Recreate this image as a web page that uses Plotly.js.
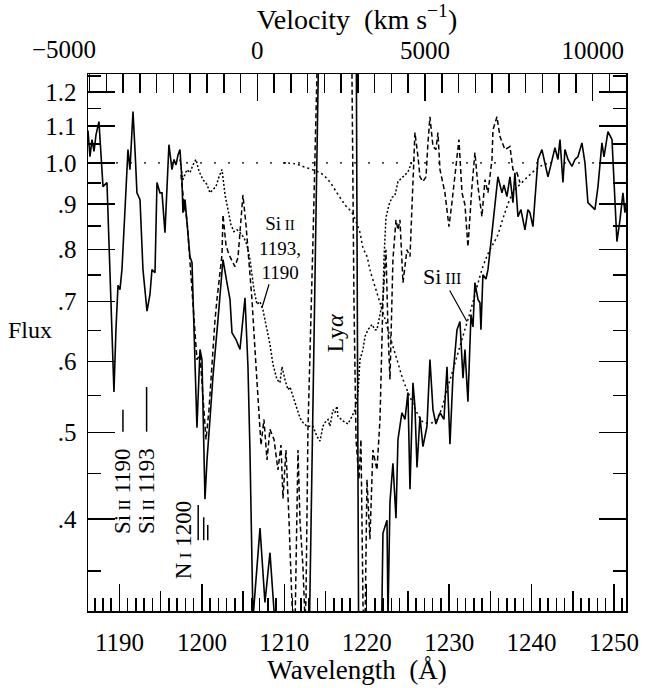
<!DOCTYPE html>
<html>
<head>
<meta charset="utf-8">
<script src="https://cdn.plot.ly/plotly-3.0.1.min.js"></script>
<style>html,body{margin:0;padding:0;background:#fff;}</style>
</head>
<body>
<div id="chart" style="width:660px;height:688px;"></div>
<script>
// ---- observed spectrum (solid) ----
var solidLam = [1186.18,1186.42,1186.66,1186.91,1187.15,1187.51,1187.76,1188.00,1188.48,1188.73,1189.09,1189.33,1189.57,1189.82,1190.06,1190.30,1190.67,1191.03,1191.27,1191.64,1191.88,1192.12,1192.49,1192.85,1193.34,1193.70,1193.94,1194.31,1194.55,1194.91,1195.16,1195.52,1196.00,1196.37,1196.61,1196.86,1197.10,1197.34,1197.58,1197.70,1197.95,1198.19,1198.55,1198.80,1199.04,1199.40,1199.77,1200.01,1200.37,1200.62,1200.98,1201.34,1201.95,1202.56,1203.04,1203.41,1203.65,1204.14,1204.62,1205.23,1205.59,1205.83,1206.20,1207.05,1207.65,1208.26,1208.87,1210.00,1212.90,1214.30,1216.50,1218.70,1219.05,1220.50,1221.80,1221.97,1222.46,1222.58,1222.82,1223.18,1223.55,1223.79,1224.27,1224.64,1225.00,1225.25,1225.61,1225.85,1226.10,1226.46,1226.82,1227.31,1227.67,1228.04,1228.40,1228.89,1229.37,1229.74,1230.10,1230.46,1230.95,1231.31,1231.68,1231.92,1232.28,1232.65,1232.89,1233.13,1233.50,1233.74,1233.86,1234.10,1234.47,1234.71,1235.20,1235.56,1235.92,1236.41,1236.65,1237.01,1237.38,1237.74,1237.98,1238.35,1238.71,1239.20,1239.56,1239.80,1240.17,1240.41,1240.78,1241.26,1241.63,1241.99,1242.35,1242.84,1243.20,1243.45,1243.81,1244.05,1244.42,1244.90,1245.27,1245.63,1246.11,1246.48,1246.84,1247.33,1247.69,1248.06,1248.54,1248.79,1249.27,1249.76,1250.12,1250.36,1250.73,1251.09,1251.33,1251.46];
var solidFlux = [1.087,1.016,1.062,1.030,1.075,1.112,1.021,0.941,0.951,0.800,0.651,0.555,0.651,0.730,0.722,0.760,0.887,1.035,0.983,1.141,1.035,0.926,0.910,0.760,0.683,0.713,0.760,0.754,0.951,0.926,0.926,0.836,1.048,0.983,1.009,0.995,1.021,1.035,0.958,0.880,0.910,0.864,0.786,0.774,0.651,0.506,0.619,0.603,0.421,0.466,0.517,0.577,0.668,0.780,0.735,0.704,0.646,0.635,0.619,0.707,0.592,0.478,0.310,0.391,0.323,0.367,0.305,0.280,0.250,1.600,2.000,1.600,0.250,0.280,0.300,0.386,0.399,0.310,0.418,0.462,0.401,0.491,0.526,0.517,0.554,0.432,0.568,0.534,0.457,0.521,0.482,0.508,0.603,0.530,0.511,0.526,0.517,0.592,0.485,0.577,0.651,0.665,0.575,0.619,0.541,0.677,0.656,0.735,0.704,0.698,0.651,0.750,0.742,0.760,0.836,0.903,0.965,0.926,0.945,0.917,0.965,0.903,0.975,0.871,0.887,0.842,0.887,0.880,0.849,0.910,1.009,1.035,1.000,0.965,0.995,1.040,1.009,1.062,0.951,1.035,1.009,0.991,1.009,1.016,1.053,1.000,0.903,0.894,0.887,0.941,1.053,1.016,1.084,1.062,0.887,0.817,0.864,0.926,0.880,0.898];

// ---- dashed spectrum ----
var dashLam = [1197.46,1197.83,1198.19,1198.55,1198.92,1199.40,1199.77,1200.13,1200.50,1200.86,1201.22,1201.59,1201.83,1202.20,1202.44,1202.56,1202.92,1203.28,1203.65,1204.01,1204.38,1204.74,1204.98,1205.35,1205.71,1206.08,1206.44,1206.80,1207.17,1207.53,1207.90,1208.26,1208.75,1209.23,1209.60,1209.84,1210.20,1210.57,1210.93,1211.29,1211.66,1211.90,1212.26,1212.50,1212.63,1212.87,1213.23,1213.48,1213.96,1214.20,1216.00,1218.00,1218.21,1218.45,1218.70,1219.06,1219.30,1219.55,1219.79,1220.03,1220.39,1220.75,1221.24,1221.61,1221.97,1222.33,1222.58,1222.82,1223.18,1223.55,1223.79,1224.03,1224.40,1224.88,1225.25,1225.49,1225.85,1226.22,1226.46,1226.82,1227.19,1227.43,1227.67,1228.04,1228.40,1228.64,1228.89,1229.49,1229.98,1230.34,1230.71,1230.95,1231.19,1231.56,1231.92,1232.28,1232.53,1232.77,1233.13,1233.50,1233.98,1234.35,1234.71,1235.20,1235.32,1235.80,1236.17,1236.77,1237.38,1237.74,1238.23,1238.59];
var dashFlux = [0.970,0.898,0.864,0.776,0.704,0.603,0.611,0.544,0.491,0.530,0.603,0.668,0.704,0.760,0.790,0.875,0.810,0.790,0.776,0.766,0.784,0.853,0.921,0.853,0.776,0.703,0.619,0.544,0.484,0.517,0.466,0.504,0.491,0.454,0.484,0.422,0.478,0.399,0.322,0.300,0.478,0.399,0.354,0.310,0.325,0.504,0.703,0.821,1.258,1.600,2.000,1.600,1.258,0.704,0.491,0.443,0.491,0.320,0.300,0.443,0.380,0.478,0.454,0.517,0.704,0.800,0.651,0.573,0.780,0.864,0.842,0.864,0.735,0.800,0.786,0.910,1.081,1.016,0.965,0.953,0.965,1.053,1.126,1.043,1.035,1.081,0.983,0.926,0.849,0.903,0.975,1.027,1.062,0.926,0.898,0.806,0.880,0.941,1.027,0.941,0.871,0.958,0.926,1.009,1.089,1.126,1.070,1.035,1.043,0.983,0.975,0.951];

// ---- dotted spectrum ----
var dotLam = [1197.34,1197.70,1198.19,1198.55,1198.92,1199.28,1199.65,1200.13,1200.62,1200.98,1201.34,1201.71,1202.07,1202.44,1202.81,1203.16,1203.53,1203.89,1204.26,1204.62,1205.10,1205.47,1205.83,1206.32,1206.68,1207.05,1207.41,1207.90,1208.26,1208.62,1209.11,1209.47,1209.72,1210.08,1210.44,1210.69,1211.05,1211.54,1211.90,1212.26,1212.75,1213.11,1213.48,1213.96,1214.33,1214.69,1214.93,1215.30,1215.54,1215.90,1216.15,1216.39,1216.51,1217.12,1217.72,1218.21,1218.58,1218.94,1219.18,1219.55,1219.79,1220.15,1220.64,1221.00,1221.24,1221.61,1221.97,1222.09,1222.33,1222.70,1223.06,1223.43,1223.79,1224.40,1225.00,1225.49,1225.97];
var dotFlux = [1.009,0.958,0.983,0.975,0.995,1.009,0.979,0.958,0.946,0.926,0.934,0.941,0.965,0.983,0.921,0.887,0.853,0.838,0.842,0.836,0.825,0.810,0.780,0.722,0.695,0.700,0.685,0.651,0.627,0.596,0.573,0.568,0.592,0.573,0.558,0.562,0.548,0.530,0.519,0.513,0.508,0.508,0.508,0.495,0.489,0.508,0.513,0.517,0.508,0.530,0.526,0.535,0.521,0.515,0.511,0.521,0.530,0.554,0.603,0.619,0.640,0.651,0.660,0.651,0.651,0.677,0.704,0.780,0.868,0.898,0.915,0.920,0.953,0.965,0.977,1.003,1.009];

// ---- smooth Si III profile (dotted) ----
var modelLam = [1209.84,1211.29,1212.26,1213.36,1214.33,1215.30,1216.39,1217.36,1218.21,1218.70,1219.18,1219.55,1220.03,1220.39,1221.24,1221.97,1222.82,1223.67,1224.40,1225.25,1226.10,1226.82,1228.04,1228.89,1229.74,1230.46,1231.31,1232.16,1232.53,1234.10,1234.95,1235.80,1236.77,1237.74,1238.83,1239.80,1241.02,1242.23];
var modelFlux = [1.000,0.998,0.991,0.983,0.975,0.958,0.926,0.898,0.880,0.860,0.836,0.804,0.786,0.760,0.716,0.681,0.640,0.603,0.573,0.548,0.526,0.514,0.513,0.526,0.558,0.587,0.624,0.663,0.680,0.766,0.800,0.827,0.880,0.926,0.951,0.970,0.991,1.000];

// ---- continuum ----
var contLam = [1186.18, 1251.46];
var contFlux = [1.0, 1.0];

// ---- line markers ----
var markLam  = [1190.42, 1193.29, 1199.55, 1200.22, 1200.71];
var markTop  = [0.530, 0.562, 0.415, 0.402, 0.394];
var markBot  = [0.501, 0.501, 0.379, 0.379, 0.379];

// ---- axes ticks ----
var yTickVals = [0.4,0.5,0.6,0.7,0.8,0.9,1.0,1.1,1.2];
var yTickText = ['.4','.5','.6','.7','.8','.9','1.0','1.1','1.2'];
var yMinorVals = [0.35,0.45,0.55,0.65,0.75,0.85,0.95,1.05,1.15,1.25];
var xTickVals = [1190,1200,1210,1220,1230,1240,1250];
var xMidVals = [1195,1205,1215,1225,1235,1245];
var vTickVals = [0,5000,10000];
var vTickText = ['0','5000','10000'];
var vFirst = -5000;
var vFirstLabel = '\u22125000';   // sits at the frame corner, drawn slightly left as in the original

var FONT = "'Liberation Serif', 'Times New Roman', 'DejaVu Serif', serif";
var xRange = [1186.18, 1251.46];
var vRange = [-5048, 10993];

var mx = [], my = [];
for (var i = 0; i < markLam.length; i++) {
  mx.push(markLam[i], markLam[i], null);
  my.push(markBot[i], markTop[i], null);
}

var traces = [
  {x: contLam, y: contFlux, mode:'lines', line:{color:'#000', width:1.3, dash:'2px,12px'}, hoverinfo:'skip'},
  {x: modelLam, y: modelFlux, mode:'lines', line:{color:'#000', width:1.5, dash:'2px,3px', shape:'spline'}, hoverinfo:'skip'},
  {x: dotLam, y: dotFlux, mode:'lines', line:{color:'#000', width:1.5, dash:'2px,2px'}, hoverinfo:'skip'},
  {x: dashLam, y: dashFlux, mode:'lines', line:{color:'#000', width:1.5, dash:'5px,3px'}, hoverinfo:'skip'},
  {x: solidLam, y: solidFlux, mode:'lines', line:{color:'#000', width:1.6}, hoverinfo:'skip'},
  {x: mx, y: my, mode:'lines', line:{color:'#000', width:1.5}, connectgaps:false, hoverinfo:'skip'},
  // carriers so the overlaid tick axes are created (draw nothing)
  {x: vRange, y: [1, 1], xaxis:'x2', yaxis:'y', mode:'none', hoverinfo:'skip'},
  {x: xRange, y: [1, 1], xaxis:'x3', yaxis:'y', mode:'none', hoverinfo:'skip'}
];

var small = function(s, sz){ return "<span style='font-size:" + sz + "px'>" + s + "</span>"; };
var NB = '\u00a0';

var layout = {
  width: 660, height: 688,
  margin: {l: 88, r: 34, t: 74, b: 77, pad: 0},
  paper_bgcolor: '#fff', plot_bgcolor: '#fff',
  showlegend: false,
  font: {family: FONT, size: 25, color: '#000'},
  xaxis: {
    range: xRange, showgrid: false, zeroline: false,
    showline: true, linecolor: '#000', linewidth: 1.5,
    ticks: 'inside', ticklen: 27, tickwidth: 1.5, tickcolor: '#000',
    tickmode: 'array', tickvals: xTickVals,
    minor: {ticks: 'inside', ticklen: 13, tickwidth: 1.5, tickcolor: '#000', dtick: 1, tick0: 1190, showgrid: false},
    tickfont: {family: FONT, size: 25}, ticklabelstandoff: 8,
    title: {text: 'Wavelength' + NB + NB + '(Å)', font: {family: FONT, size: 27}, standoff: 2}
  },
  xaxis3: {
    overlaying: 'x', anchor: 'y', side: 'bottom',
    range: xRange, showgrid: false, zeroline: false, showline: false,
    ticks: 'inside', ticklen: 20, tickwidth: 1.5, tickcolor: '#000',
    tickmode: 'array', tickvals: xMidVals, showticklabels: false
  },
  xaxis2: {
    overlaying: 'x', anchor: 'y', side: 'top',
    range: vRange, showgrid: false, zeroline: false,
    showline: true, linecolor: '#000', linewidth: 1.5,
    ticks: 'inside', ticklen: 27, tickwidth: 1.5, tickcolor: '#000',
    tickmode: 'array', tickvals: vTickVals, ticktext: vTickText,
    minor: {ticks: 'inside', ticklen: 19, tickwidth: 1.5, tickcolor: '#000', dtick: 500, tick0: 0, showgrid: false},
    tickfont: {family: FONT, size: 25}, ticklabelstandoff: 4,
    title: {text: 'Velocity' + NB + NB + '(km' + NB + 's<sup>\u22121</sup>)', font: {family: FONT, size: 28}, standoff: 2}
  },
  yaxis: {
    type: 'log', range: [Math.log10(0.3159), Math.log10(1.257)],
    showgrid: false, zeroline: false,
    showline: true, linecolor: '#000', linewidth: 1.5, mirror: 'ticks',
    ticks: 'inside', ticklen: 27, tickwidth: 1.5, tickcolor: '#000',
    tickmode: 'array', tickvals: yTickVals, ticktext: yTickText,
    minor: {ticks: 'inside', ticklen: 13, tickwidth: 1.5, tickcolor: '#000', tickmode: 'array', tickvals: yMinorVals, showgrid: false},
    tickfont: {family: FONT, size: 25}, ticklabelstandoff: 5
  },
  annotations: [
    {xref:'x2', yref:'paper', x:vFirst, y:1, xanchor:'center', yanchor:'middle', xshift:-26, yshift:25,
     text:vFirstLabel, showarrow:false, font:{family:FONT, size:25}},
    {xref:'paper', yref:'paper', x:-0.108, y:0.523, xanchor:'center', yanchor:'middle', text:'Flux', showarrow:false, font:{family:FONT, size:24}},
    {x:1207.29, y:Math.log10(0.689), ax:18, ay:-60, text:'Si' + small(' II', 15) + '<br>1193,<br>1190', align:'center',
     showarrow:true, arrowhead:0, arrowwidth:1.2, arrowcolor:'#000', standoff:0, font:{family:FONT, size:19}},
    {x:1216.15, y:Math.log10(0.645), text:'Ly<i>α</i>', textangle:-90, showarrow:false, font:{family:FONT, size:24}},
    {x:1232.16, y:Math.log10(0.665), ax:-25, ay:-45, text:'Si' + small(' III', 16), showarrow:true, arrowhead:0, arrowwidth:1.2, arrowcolor:'#000', standoff:0, font:{family:FONT, size:22}},
    {x:1190.3, y:Math.log10(0.430), text:'Si' + small(' II', 17) + ' 1190', textangle:-90, showarrow:false, font:{family:FONT, size:23}},
    {x:1193.2, y:Math.log10(0.430), text:'Si' + small(' II', 17) + ' 1193', textangle:-90, showarrow:false, font:{family:FONT, size:23}},
    {x:1197.7, y:Math.log10(0.379), text:'N' + small(' I', 17) + ' 1200', textangle:-90, showarrow:false, font:{family:FONT, size:23}}
  ]
};

Plotly.newPlot('chart', traces, layout, {displayModeBar: false, staticPlot: true});
</script>
</body>
</html>
